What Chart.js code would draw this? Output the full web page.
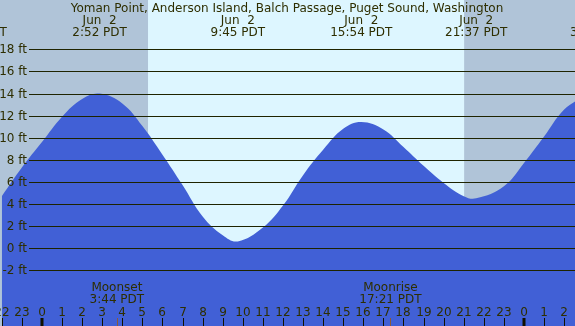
<!DOCTYPE html>
<html lang="en">
<head>
    <meta charset="UTF-8">
    <title>Yoman Point tide chart</title>
    <script src="https://cdn.jsdelivr.net/npm/chart.js"></script>
    <style>
        html, body { margin: 0; padding: 0; background: #b0c4d8; }
        canvas { display: block; }
    </style>
</head>
<body>
    <canvas id="tide-chart" width="575" height="326"></canvas>

    <script>
        // tide curve, hours since midnight Jun 2 (PDT) and height in feet
        const tideHours = [-2, -1, 0, 1, 2, 2.87, 4, 5, 6, 7, 8, 9, 9.75, 11, 12, 13, 14, 15,
                           15.9, 17, 18, 19, 20, 21, 21.62, 23, 24, 25, 26, 27];
        const tideFeet = [4.7, 7.3, 9.6, 11.9, 13.5, 14.0, 13.1, 11.05, 8.45, 5.7, 2.85, 1.15, 0.6,
                          1.85, 3.85, 6.6, 8.9, 10.8, 11.42, 10.75, 9.15, 7.45, 5.9, 4.7, 4.5,
                          5.6, 7.7, 10.1, 12.55, 13.8];

        // high / low labels along the top
        const extremeHours = [-3.3, 2.87, 9.75, 15.9, 21.62, 27.65];
        const extremeDates = ['Jun  1', 'Jun  2', 'Jun  2', 'Jun  2', 'Jun  2', 'Jun  3'];
        const extremeTimes = ['20:42 PDT', '2:52 PDT', '9:45 PDT', '15:54 PDT', '21:37 PDT', '3:39 PDT'];

        const sunrise = 5.28;
        const sunset = 21.02;

        const moonHours = [3.73, 17.35];
        const moonNames = ['Moonset', 'Moonrise'];
        const moonTimes = ['3:44 PDT', '17:21 PDT'];

        const feetTicks = [-2, 0, 2, 4, 6, 8, 10, 12, 14, 16, 18];
        const hourTicks = [-2, -1, 0, 1, 2, 3, 4, 5, 6, 7, 8, 9, 10, 11, 12, 13, 14, 15, 16, 17, 18,
                           19, 20, 21, 22, 23, 24, 25, 26];

        const textColor = '#2e2e00';
        const font = '12px "DejaVu Sans"';

        const decorations = {
            id: 'decorations',
            beforeDatasetsDraw(chart) {
                const ctx = chart.ctx;
                const x = chart.scales.x;
                const area = chart.chartArea;
                ctx.save();
                ctx.fillStyle = '#b0c4d8';
                ctx.fillRect(area.left, area.top, area.right - area.left, area.bottom - area.top);
                const x1 = x.getPixelForValue(sunrise);
                const x2 = x.getPixelForValue(sunset);
                ctx.fillStyle = '#ddf6ff';
                ctx.fillRect(x1, area.top, x2 - x1, area.bottom - area.top);
                ctx.restore();
            },
            afterDatasetsDraw(chart) {
                const ctx = chart.ctx;
                const x = chart.scales.x;
                const y = chart.scales.y;
                const w = chart.width;
                const h = chart.height;
                ctx.save();
                ctx.font = font;
                ctx.fillStyle = textColor;

                // horizontal lines with ft labels
                ctx.strokeStyle = '#1e2400';
                ctx.lineWidth = 1;
                ctx.textAlign = 'right';
                ctx.textBaseline = 'middle';
                feetTicks.forEach(f => {
                    const py = Math.round(y.getPixelForValue(f)) + 0.5;
                    ctx.beginPath();
                    ctx.moveTo(29, py);
                    ctx.lineTo(w, py);
                    ctx.stroke();
                    ctx.fillText(f + ' ft', 27, py);
                });

                // title and tide times
                ctx.textAlign = 'center';
                ctx.textBaseline = 'alphabetic';
                ctx.fillText('Yoman Point, Anderson Island, Balch Passage, Puget Sound, Washington', 287, 12);
                extremeHours.forEach((t, i) => {
                    const px = x.getPixelForValue(t);
                    ctx.fillText(extremeDates[i], px, 24);
                    ctx.fillText(extremeTimes[i], px, 36);
                });

                // moon events
                moonHours.forEach((t, i) => {
                    const px = x.getPixelForValue(t);
                    ctx.fillText(moonNames[i], px, 291);
                    ctx.fillText(moonTimes[i], px, 303);
                    ctx.strokeStyle = '#8a5a3a';
                    ctx.beginPath();
                    ctx.moveTo(Math.round(px) + 0.5, 318);
                    ctx.lineTo(Math.round(px) + 0.5, h);
                    ctx.stroke();
                });

                // hour labels and ticks
                ctx.strokeStyle = '#111100';
                hourTicks.forEach(t => {
                    const px = Math.round(x.getPixelForValue(t));
                    const hr = ((t % 24) + 24) % 24;
                    ctx.fillText(String(hr), px, 316);
                    ctx.lineWidth = hr === 0 ? 3 : 1;
                    ctx.beginPath();
                    ctx.moveTo(px + (hr === 0 ? 0 : 0.5), 318);
                    ctx.lineTo(px + (hr === 0 ? 0 : 0.5), h);
                    ctx.stroke();
                });
                ctx.restore();
            }
        };

        const ctx = document.getElementById('tide-chart').getContext('2d');
        const tideChart = new Chart(ctx, {
            type: 'line',
            data: {
                datasets: [{
                    label: 'Tide',
                    data: tideHours.map((t, i) => ({ x: t, y: tideFeet[i] })),
                    fill: 'start',
                    backgroundColor: '#4160d6',
                    borderWidth: 0,
                    pointRadius: 0,
                    tension: 0.4
                }]
            },
            options: {
                responsive: false,
                animation: false,
                layout: { padding: 0 },
                plugins: {
                    legend: { display: false },
                    tooltip: { enabled: false }
                },
                scales: {
                    x: { type: 'linear', min: -2.09, max: 26.54, display: false },
                    y: { min: -7.07, max: 22.48, display: false }
                }
            },
            plugins: [decorations]
        });
    </script>
</body>
</html>
